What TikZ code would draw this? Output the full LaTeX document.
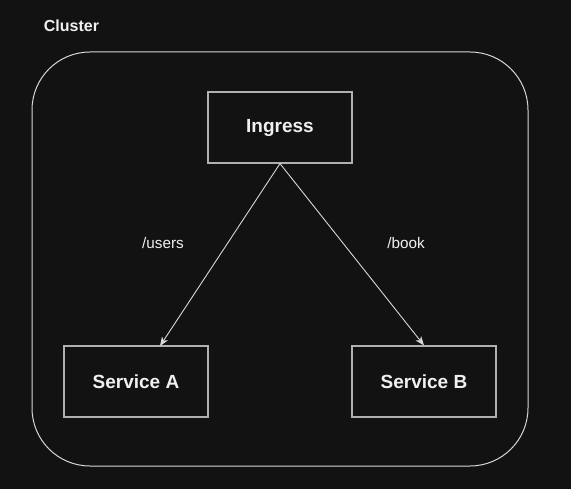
\documentclass[tikz,border=0pt]{standalone}
\usepackage{fontspec}
\setmainfont{Liberation Sans}
\usetikzlibrary{arrows.meta}
\definecolor{bg}{HTML}{121212}
\definecolor{ln}{HTML}{D8D8D8}
\definecolor{bx}{HTML}{B0B0B0}
\definecolor{tx}{HTML}{F0F0F0}
\begin{document}
\begin{tikzpicture}[x=1pt,y=-1pt,
  svc/.style={draw=bx, line width=1.2pt, minimum width=144pt, minimum height=71pt, inner sep=0pt, text=tx, font=\fontsize{19}{22}\selectfont\bfseries},
  lbl/.style={text=tx, font=\fontsize{15.3}{18}\selectfont},
  conn/.style={draw=ln, line width=0.9pt, -{Stealth[length=9pt,width=7pt,inset=2.5pt]}}]
\fill[bg] (0,0) rectangle (571,489);
\useasboundingbox (0,0) rectangle (571,489);
\draw[ln, line width=1pt, rounded corners=58pt] (32,52) rectangle (528,466);
\node[text=tx, font=\fontsize{16}{19}\selectfont\bfseries] (cl) at (71.5,26) {Cluster};
\node[svc] (ing) at (280,127.5) {Ingress};
\node[svc] (sa) at (136,381.5) {Service A};
\node[svc] (sb) at (424,381.5) {Service B};
\coordinate (ea) at (160,346);
\draw[conn] (ing.south) -- (ea);
\draw[conn] (ing.south) -- (sb.north);
\node[lbl] (lu) at (163,243) {/users};
\node[lbl] (lb) at (406,243) {/book};
\end{tikzpicture}
\end{document}
